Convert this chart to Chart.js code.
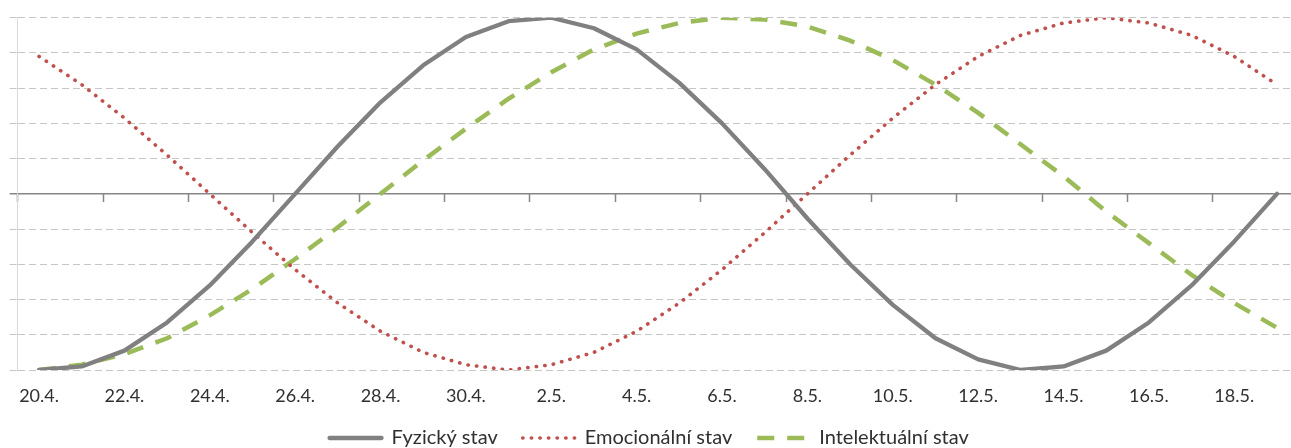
<!DOCTYPE html>
<html>
<head>
<meta charset="utf-8">
<script src="https://cdn.jsdelivr.net/npm/chart.js@4"></script>
<style>
  html, body { margin: 0; padding: 0; background: #fff; overflow: hidden; }
  #wrap { position: absolute; left: 0; top: 0; width: 1300px; height: 458px; }
</style>
</head>
<body>
<div id="wrap"><canvas id="bioChart"></canvas></div>
<script>
const dates = ['20.4.', '21.4.', '22.4.', '23.4.', '24.4.', '25.4.', '26.4.', '27.4.', '28.4.', '29.4.',
    '30.4.', '1.5.', '2.5.', '3.5.', '4.5.', '5.5.', '6.5.', '7.5.', '8.5.', '9.5.',
    '10.5.', '11.5.', '12.5.', '13.5.', '14.5.', '15.5.', '16.5.', '17.5.', '18.5.', '19.5.'];

const fyzicky = [-1.00, -0.98, -0.89, -0.73, -0.52, -0.27, 0.00, 0.27, 0.52, 0.73,
    0.89, 0.98, 1.00, 0.94, 0.82, 0.63, 0.40, 0.14, -0.14, -0.40,
    -0.63, -0.82, -0.94, -1.00, -0.98, -0.89, -0.73, -0.52, -0.27, 0.00];

const emocionalni = [0.78, 0.62, 0.43, 0.22, 0.00, -0.22, -0.43, -0.62, -0.78, -0.90,
    -0.97, -1.00, -0.97, -0.90, -0.78, -0.62, -0.43, -0.22, 0.00, 0.22,
    0.43, 0.62, 0.78, 0.90, 0.97, 1.00, 0.97, 0.90, 0.78, 0.62];

const intelektualni = [-1.00, -0.97, -0.91, -0.82, -0.69, -0.54, -0.37, -0.19, 0.00, 0.19,
    0.37, 0.54, 0.69, 0.82, 0.91, 0.97, 1.00, 0.99, 0.95, 0.87,
    0.76, 0.62, 0.46, 0.28, 0.10, -0.10, -0.28, -0.46, -0.62, -0.76];

const gridGray = '#c6c6c6';
const axisGray = '#868686';

const isZero = (c) => c.tick && c.tick.value === 0;

const data = {
    labels: dates,
    datasets: [{
        label: 'Fyzický stav',
        data: fyzicky,
        borderColor: '#808080',
        backgroundColor: '#808080',
        borderWidth: 4.3,
        borderCapStyle: 'round',
        borderJoinStyle: 'round'
    }, {
        label: 'Emocionální stav',
        data: emocionalni,
        borderColor: '#c0504d',
        backgroundColor: '#c0504d',
        borderWidth: 3.6,
        borderDash: [0.3, 8.3],
        borderCapStyle: 'round'
    }, {
        label: 'Intelektuální stav',
        data: intelektualni,
        borderColor: '#9bbb59',
        backgroundColor: '#9bbb59',
        borderWidth: 4.5,
        borderDash: [17, 13],
        borderCapStyle: 'butt'
    }]
};

// legend samples should carry the same dash as the lines
const legendLabels = (chart) => {
    const items = Chart.defaults.plugins.legend.labels.generateLabels(chart);
    items.forEach((item) => {
        const ds = chart.data.datasets[item.datasetIndex];
        item.lineDash = ds.borderDash || [];
        item.lineCap = ds.borderCapStyle || 'butt';
        item.lineWidth = ds.borderWidth;
        item.strokeStyle = ds.borderColor;
    });
    return items;
};

const config = {
    type: 'line',
    data: data,
    options: {
        responsive: true,
        maintainAspectRatio: false,
        animation: false,
        layout: {
            padding: { left: 0, right: 1.7, top: 17.7, bottom: 0 }
        },
        elements: {
            point: { radius: 0, hoverRadius: 0 },
            line: { tension: 0, fill: false }
        },
        plugins: {
            legend: {
                position: 'bottom',
                labels: {
                    usePointStyle: true,
                    pointStyle: 'line',
                    pointStyleWidth: 52,
                    padding: 25,
                    color: '#303030',
                    font: { family: 'Lato', size: 20 },
                    generateLabels: legendLabels
                }
            },
            tooltip: { enabled: false }
        },
        scales: {
            x: {
                type: 'category',
                offset: true,
                grid: { display: false, drawTicks: false },
                border: { display: false },
                ticks: {
                    autoSkip: false,
                    maxRotation: 0,
                    padding: 19,
                    color: '#303030',
                    font: { family: 'Lato', size: 18, lineHeight: '14px' },
                    callback: (v, i) => (i % 2 === 0 ? dates[i] : '')
                },
                afterFit: (scale) => { scale.height = 33; }
            },
            x2: {
                type: 'category',
                position: { y: 0 },
                offset: true,
                grid: {
                    offset: true,
                    drawOnChartArea: false,
                    drawTicks: true,
                    tickLength: 8,
                    tickWidth: 1.5,
                    tickColor: (c) => (c.index % 2 === 0 ? axisGray : 'rgba(0,0,0,0)')
                },
                border: { display: false },
                ticks: { display: false }
            },
            y: {
                min: -1,
                max: 1,
                grid: {
                    color: (c) => (isZero(c) ? axisGray : gridGray),
                    lineWidth: (c) => (isZero(c) ? 1.5 : 1),
                    drawTicks: true,
                    tickLength: 8,
                    tickColor: (c) => (isZero(c) ? axisGray : gridGray),
                    tickBorderDash: (c) => (isZero(c) ? [] : [7, 4])
                },
                border: {
                    display: true,
                    color: '#d9d9d9',
                    width: 1,
                    dash: (c) => (isZero(c) || !c.tick ? [] : [7, 4])
                },
                ticks: {
                    display: false,
                    stepSize: 0.2
                }
            }
        }
    }
};

const myChart = new Chart(document.getElementById('bioChart'), config);
</script>
</body>
</html>
